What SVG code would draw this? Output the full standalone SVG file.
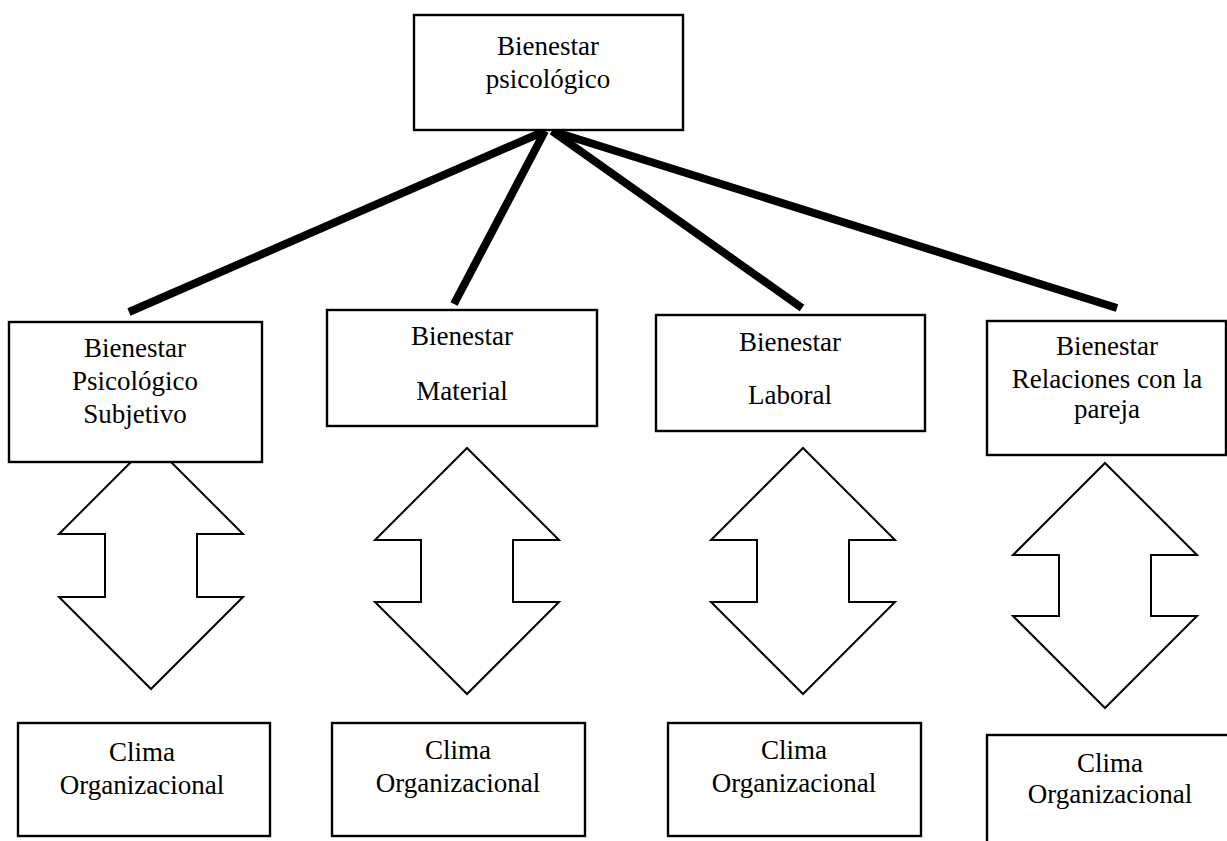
<svg xmlns="http://www.w3.org/2000/svg" width="1227" height="841" viewBox="0 0 1227 841">
  <style>
    .box { fill: #ffffff; stroke: #000000; stroke-width: 2.4; }
    .link { stroke: #000000; stroke-width: 8; stroke-linecap: butt; fill: none; }
    .dbl { fill: #ffffff; stroke: #000000; stroke-width: 2; stroke-linejoin: miter; }
    text { font-family: "Liberation Serif", "Times New Roman", serif; font-size: 27px; fill: #000000; text-anchor: middle; }
  </style>
  <rect x="0" y="0" width="1227" height="841" fill="#ffffff"/>

  <g id="connectors">
    <line class="link" x1="545" y1="131" x2="129" y2="312"/>
    <line class="link" x1="545" y1="131" x2="454" y2="304"/>
    <line class="link" x1="552" y1="131" x2="802" y2="308"/>
    <line class="link" x1="552" y1="131" x2="1117" y2="308"/>
    <polygon id="arrow1" class="dbl" points="151,442 243,534 197,534 197,597 243,597 151,689 59,597 105,597 105,534 59,534"/>
    <polygon id="arrow2" class="dbl" points="467,448 559,540 513,540 513,602 559,602 467,694 375,602 421,602 421,540 375,540"/>
    <polygon id="arrow3" class="dbl" points="803,448 895,540 849,540 849,602 895,602 803,694 711,602 757,602 757,540 711,540"/>
    <polygon id="arrow4" class="dbl" points="1105,463 1197,555 1151,555 1151,616 1197,616 1105,708 1013,616 1059,616 1059,555 1013,555"/>
  </g>

  <g id="node-top">
    <rect class="box" x="414" y="15" width="269" height="115"/>
    <text x="548" y="55">Bienestar</text>
    <text x="548" y="88">psicológico</text>
  </g>

  <g id="node-subjetivo">
    <rect class="box" x="9" y="322" width="253" height="140"/>
    <text x="135" y="357">Bienestar</text>
    <text x="135" y="390">Psicológico</text>
    <text x="135" y="423">Subjetivo</text>
  </g>

  <g id="node-material">
    <rect class="box" x="327" y="310" width="270" height="116"/>
    <text x="462" y="345">Bienestar</text>
    <text x="462" y="400">Material</text>
  </g>

  <g id="node-laboral">
    <rect class="box" x="656" y="315" width="269" height="116"/>
    <text x="790" y="351">Bienestar</text>
    <text x="790" y="404">Laboral</text>
  </g>

  <g id="node-pareja">
    <rect class="box" x="987" y="321" width="239" height="134"/>
    <text x="1107" y="355">Bienestar</text>
    <text x="1107" y="388">Relaciones con la</text>
    <text x="1107" y="418">pareja</text>
  </g>

  <g id="node-clima1">
    <rect class="box" x="18" y="723" width="252" height="113"/>
    <text x="142" y="761">Clima</text>
    <text x="142" y="794">Organizacional</text>
  </g>

  <g id="node-clima2">
    <rect class="box" x="332" y="723" width="253" height="113"/>
    <text x="458" y="759">Clima</text>
    <text x="458" y="792">Organizacional</text>
  </g>

  <g id="node-clima3">
    <rect class="box" x="668" y="723" width="253" height="113"/>
    <text x="794" y="759">Clima</text>
    <text x="794" y="792">Organizacional</text>
  </g>

  <g id="node-clima4">
    <rect class="box" x="987" y="735" width="260" height="120"/>
    <text x="1110" y="772">Clima</text>
    <text x="1110" y="803">Organizacional</text>
  </g>
</svg>
